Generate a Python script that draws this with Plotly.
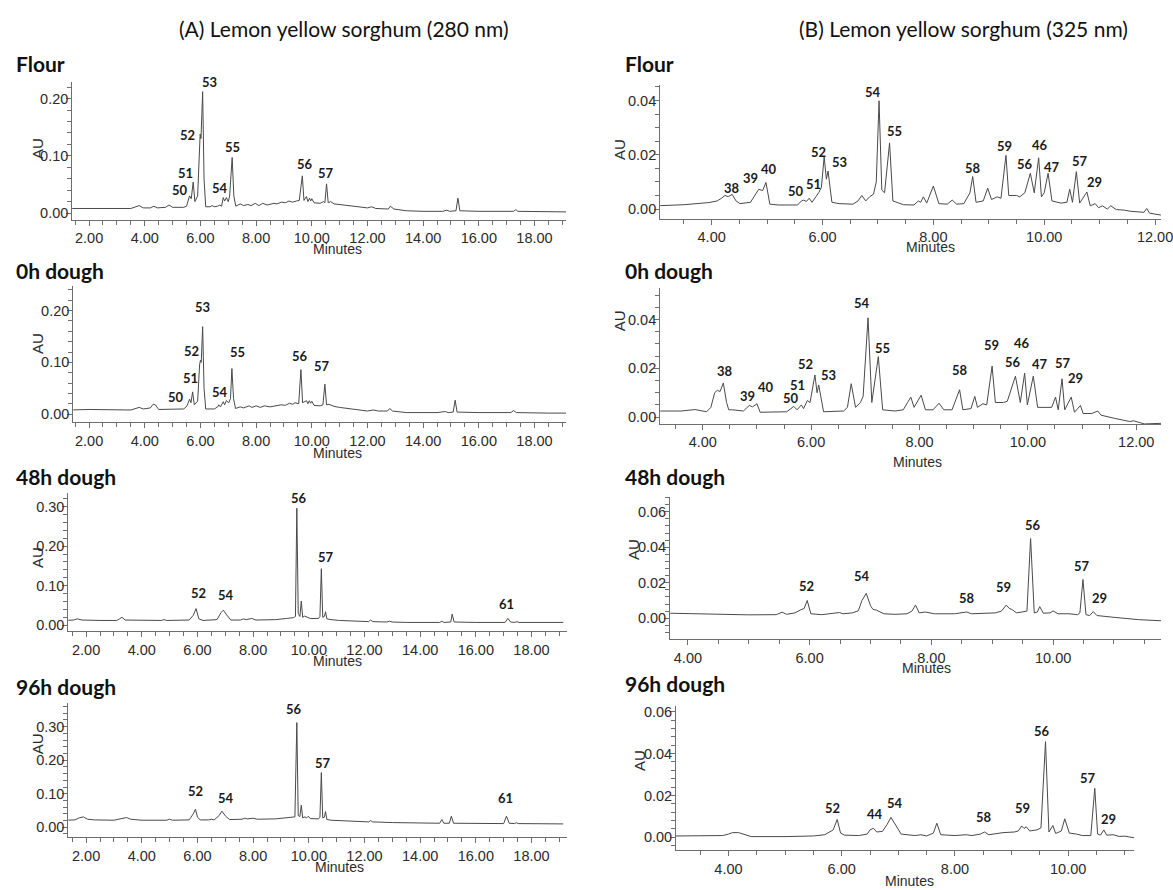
import plotly.graph_objects as go

# ---------------- DATA ----------------
# (A) 280 nm chromatograms: retention time (min) and absorbance (AU)
A1_t = [1.30,1.70,2.00,2.20,3.50,3.80,3.95,4.20,4.33,4.45,4.75,4.87,5.00,5.40,5.50,5.61,5.67,5.74,5.80,5.90,5.96,5.99,6.02,6.08,6.13,6.19,6.35,6.42,6.50,6.62,6.70,6.76,6.82,6.87,6.93,7.00,7.05,7.14,7.20,7.27,7.43,7.55,7.70,7.82,7.97,8.10,8.24,8.40,8.64,8.75,8.91,9.05,9.18,9.30,9.45,9.55,9.66,9.72,9.81,9.86,9.92,9.96,10.00,10.08,10.30,10.42,10.47,10.53,10.59,10.68,10.80,11.00,11.30,11.60,12.00,12.15,12.30,12.75,12.82,12.95,13.40,14.00,14.70,14.85,14.95,15.18,15.25,15.32,16.00,17.25,17.33,17.40,18.50,19.14]
A1_au = [0.008,0.008,0.009,0.008,0.008,0.013,0.009,0.009,0.012,0.009,0.010,0.014,0.010,0.010,0.012,0.030,0.025,0.054,0.020,0.030,0.120,0.138,0.130,0.212,0.060,0.011,0.011,0.013,0.011,0.012,0.014,0.012,0.027,0.021,0.027,0.020,0.030,0.097,0.030,0.012,0.016,0.013,0.015,0.013,0.017,0.013,0.017,0.014,0.017,0.016,0.019,0.018,0.021,0.019,0.021,0.022,0.065,0.022,0.029,0.020,0.026,0.021,0.025,0.018,0.017,0.020,0.018,0.051,0.018,0.020,0.016,0.015,0.013,0.011,0.009,0.011,0.008,0.007,0.012,0.007,0.004,0.003,0.003,0.005,0.003,0.004,0.026,0.004,0.003,0.003,0.006,0.003,0.002,0.002]

A2_t = [1.30,2.00,3.50,3.65,3.80,3.95,4.20,4.30,4.38,4.50,5.00,5.40,5.52,5.61,5.66,5.72,5.78,5.90,5.97,6.00,6.03,6.08,6.13,6.19,6.50,6.62,6.66,6.72,6.82,6.87,6.93,7.02,7.08,7.13,7.19,7.26,7.43,7.55,7.75,7.85,8.00,8.15,8.30,8.50,8.90,9.05,9.20,9.32,9.40,9.53,9.61,9.67,9.81,9.86,9.91,9.96,10.00,10.08,10.30,10.40,10.47,10.53,10.62,10.80,11.00,11.50,12.00,12.20,12.40,12.72,12.80,12.90,13.40,14.50,14.80,14.90,15.08,15.15,15.22,16.00,17.15,17.25,17.35,18.50,19.14]
A2_au = [0.008,0.009,0.008,0.010,0.013,0.010,0.012,0.019,0.018,0.009,0.009,0.010,0.016,0.029,0.022,0.043,0.018,0.025,0.095,0.104,0.100,0.169,0.050,0.010,0.010,0.014,0.018,0.014,0.024,0.018,0.026,0.022,0.030,0.088,0.030,0.011,0.014,0.012,0.016,0.013,0.016,0.013,0.016,0.014,0.018,0.017,0.021,0.019,0.022,0.020,0.086,0.022,0.026,0.020,0.026,0.021,0.025,0.017,0.016,0.018,0.058,0.018,0.019,0.015,0.013,0.010,0.006,0.008,0.006,0.006,0.011,0.006,0.003,0.003,0.005,0.003,0.004,0.027,0.004,0.003,0.003,0.007,0.003,0.002,0.002]

A3_t = [1.25,1.55,1.68,1.85,2.50,3.10,3.20,3.29,3.40,4.00,4.70,4.80,4.90,5.70,5.85,5.95,6.05,6.20,6.70,6.85,6.93,7.05,7.20,7.55,7.65,7.75,7.95,8.10,8.80,9.20,9.45,9.52,9.57,9.62,9.68,9.73,9.78,9.85,9.95,10.05,10.35,10.40,10.45,10.50,10.56,10.60,10.65,10.80,11.10,11.80,12.15,12.22,12.30,12.80,12.90,13.00,13.50,14.70,14.78,14.85,15.10,15.15,15.22,16.00,17.05,17.15,17.25,17.40,17.47,17.55,19.14]
A3_au = [0.012,0.013,0.016,0.013,0.012,0.012,0.016,0.020,0.013,0.012,0.012,0.014,0.012,0.013,0.025,0.042,0.016,0.012,0.014,0.032,0.038,0.026,0.013,0.013,0.016,0.014,0.017,0.013,0.014,0.017,0.019,0.022,0.296,0.030,0.022,0.061,0.020,0.023,0.019,0.017,0.017,0.022,0.143,0.020,0.022,0.034,0.016,0.014,0.012,0.009,0.009,0.013,0.009,0.008,0.010,0.008,0.007,0.007,0.010,0.007,0.008,0.028,0.008,0.007,0.007,0.017,0.008,0.007,0.009,0.007,0.007]

A4_t = [1.25,1.60,1.75,1.90,2.05,2.30,3.00,3.25,3.45,3.60,4.00,4.90,5.00,5.10,5.70,5.85,5.93,6.00,6.10,6.40,6.50,6.60,6.78,6.88,7.00,7.15,7.60,7.70,7.80,8.00,8.15,8.80,9.30,9.50,9.57,9.62,9.68,9.73,9.78,9.86,9.92,9.98,10.05,10.35,10.40,10.45,10.50,10.56,10.60,10.65,10.80,11.00,11.50,12.15,12.22,12.30,13.00,14.00,14.70,14.78,14.85,15.05,15.12,15.20,16.00,17.00,17.10,17.20,17.40,17.45,17.52,19.14]
A4_au = [0.021,0.022,0.028,0.031,0.024,0.022,0.021,0.025,0.029,0.024,0.021,0.021,0.024,0.021,0.022,0.040,0.054,0.030,0.022,0.022,0.024,0.022,0.035,0.048,0.034,0.023,0.024,0.027,0.025,0.027,0.024,0.025,0.028,0.031,0.312,0.035,0.032,0.066,0.028,0.031,0.028,0.033,0.026,0.025,0.030,0.163,0.028,0.030,0.047,0.023,0.021,0.020,0.018,0.016,0.020,0.016,0.014,0.012,0.012,0.023,0.012,0.012,0.033,0.012,0.011,0.011,0.033,0.012,0.011,0.014,0.011,0.010]

# (B) 325 nm chromatograms
B1_t = [3.00,3.50,3.95,4.10,4.18,4.24,4.30,4.37,4.44,4.51,4.70,4.80,4.85,4.92,4.98,5.05,5.20,5.55,5.62,5.66,5.71,5.76,5.81,5.88,5.93,5.98,6.03,6.07,6.10,6.17,6.30,6.55,6.64,6.71,6.78,6.85,6.92,6.97,7.02,7.07,7.12,7.21,7.27,7.46,7.65,7.73,7.77,7.82,7.88,8.00,8.10,8.25,8.34,8.42,8.55,8.66,8.71,8.77,8.90,8.98,9.05,9.15,9.22,9.31,9.36,9.50,9.56,9.65,9.75,9.82,9.90,9.95,10.00,10.07,10.14,10.30,10.41,10.46,10.51,10.58,10.64,10.77,10.83,10.92,10.98,11.05,11.14,11.20,11.30,11.45,11.55,11.80,11.85,11.90,12.10,12.30]
B1_au = [0.0012,0.0016,0.0024,0.0030,0.0040,0.0050,0.0046,0.0054,0.0030,0.0020,0.0025,0.0060,0.0073,0.0068,0.0098,0.0018,0.0015,0.0015,0.0030,0.0033,0.0028,0.0040,0.0025,0.0045,0.0060,0.0080,0.0193,0.0110,0.0140,0.0025,0.0020,0.0018,0.0030,0.0050,0.0030,0.0045,0.0055,0.0100,0.0399,0.0070,0.0060,0.0244,0.0030,0.0016,0.0015,0.0030,0.0025,0.0045,0.0022,0.0085,0.0020,0.0018,0.0033,0.0018,0.0020,0.0060,0.0120,0.0025,0.0030,0.0077,0.0035,0.0045,0.0040,0.0198,0.0050,0.0050,0.0045,0.0060,0.0132,0.0060,0.0189,0.0045,0.0060,0.0132,0.0030,0.0022,0.0025,0.0073,0.0025,0.0138,0.0022,0.0063,0.0012,0.0020,0.0005,0.0012,0.0000,0.0012,-0.0002,-0.0004,-0.0008,-0.0012,0.0002,-0.0015,-0.0022,-0.0025]

B2_t = [3.20,3.60,3.86,4.07,4.15,4.22,4.27,4.32,4.38,4.44,4.48,4.55,4.75,4.86,4.92,5.00,5.06,5.55,5.68,5.74,5.82,5.86,5.93,5.98,6.07,6.11,6.14,6.23,6.60,6.67,6.74,6.82,6.91,6.96,7.05,7.12,7.24,7.32,7.55,7.70,7.78,7.84,7.90,8.03,8.11,8.25,8.36,8.45,8.60,8.74,8.80,8.95,9.02,9.07,9.17,9.24,9.34,9.40,9.55,9.62,9.77,9.86,9.94,9.99,10.10,10.18,10.44,10.51,10.56,10.63,10.68,10.80,10.86,10.97,11.02,11.18,11.29,11.35,11.60,11.88,11.95,12.15,12.50]
B2_au = [0.0025,0.0025,0.0031,0.0022,0.0040,0.0100,0.0110,0.0105,0.0140,0.0060,0.0030,0.0030,0.0025,0.0048,0.0042,0.0055,0.0020,0.0022,0.0044,0.0030,0.0050,0.0035,0.0068,0.0060,0.0173,0.0100,0.0132,0.0022,0.0025,0.0040,0.0137,0.0040,0.0060,0.0085,0.0407,0.0060,0.0248,0.0030,0.0025,0.0030,0.0060,0.0082,0.0040,0.0090,0.0030,0.0030,0.0057,0.0030,0.0030,0.0112,0.0030,0.0035,0.0085,0.0040,0.0055,0.0050,0.0209,0.0060,0.0060,0.0065,0.0168,0.0060,0.0180,0.0050,0.0168,0.0040,0.0040,0.0082,0.0030,0.0157,0.0030,0.0082,0.0020,0.0048,0.0015,0.0015,0.0025,0.0008,-0.0005,-0.0018,-0.0015,-0.0028,-0.0025]

B3_t = [3.71,4.00,4.50,5.00,5.45,5.55,5.62,5.76,5.85,5.91,5.96,6.02,6.20,6.49,6.55,6.70,6.80,6.86,6.93,7.00,7.04,7.10,7.22,7.40,7.60,7.68,7.74,7.80,7.90,8.05,8.38,8.50,8.58,8.66,9.05,9.15,9.23,9.28,9.32,9.40,9.50,9.57,9.63,9.69,9.74,9.78,9.84,9.95,10.00,10.08,10.26,10.40,10.44,10.49,10.54,10.60,10.66,10.72,11.00,11.40,11.80]
B3_au = [0.0028,0.0026,0.0020,0.0019,0.0020,0.0034,0.0022,0.0030,0.0047,0.0055,0.0100,0.0025,0.0020,0.0032,0.0025,0.0030,0.0042,0.0100,0.0140,0.0070,0.0050,0.0045,0.0025,0.0022,0.0025,0.0040,0.0074,0.0030,0.0035,0.0025,0.0025,0.0030,0.0035,0.0025,0.0030,0.0040,0.0074,0.0055,0.0050,0.0030,0.0035,0.0040,0.0449,0.0030,0.0035,0.0065,0.0028,0.0030,0.0041,0.0025,0.0025,0.0020,0.0030,0.0218,0.0020,0.0015,0.0037,0.0015,0.0005,-0.0008,-0.0015]

B4_t = [3.07,3.90,4.00,4.07,4.18,4.28,4.40,5.00,5.50,5.70,5.80,5.85,5.92,5.98,6.05,6.30,6.45,6.50,6.56,6.62,6.72,6.80,6.87,6.95,7.05,7.30,7.40,7.50,7.62,7.68,7.75,8.00,8.20,8.30,8.45,8.52,8.60,8.85,9.05,9.12,9.18,9.22,9.26,9.32,9.45,9.52,9.60,9.66,9.73,9.78,9.88,9.94,10.02,10.15,10.25,10.40,10.47,10.52,10.57,10.63,10.68,10.80,10.90,11.00,11.17]
B4_au = [0.0006,0.0008,0.0015,0.0022,0.0022,0.0012,0.0003,0.0003,0.0006,0.0012,0.0025,0.0035,0.0085,0.0020,0.0010,0.0008,0.0015,0.0035,0.0043,0.0025,0.0028,0.0060,0.0095,0.0060,0.0015,0.0008,0.0012,0.0006,0.0020,0.0067,0.0012,0.0008,0.0012,0.0008,0.0015,0.0025,0.0012,0.0022,0.0025,0.0030,0.0054,0.0042,0.0050,0.0030,0.0035,0.0045,0.0457,0.0025,0.0056,0.0018,0.0030,0.0088,0.0020,0.0015,0.0008,0.0008,0.0234,0.0015,0.0010,0.0035,0.0010,0.0012,0.0004,0.0005,-0.0003]

# Peak numbers and where they are written (time, AU)
A1_lbl = ["53","52","51","50","54","55","56","57"]
A1_lbl_t = [6.33,5.52,5.45,5.27,6.71,7.16,9.74,10.50]
A1_lbl_au = [0.229,0.137,0.070,0.040,0.043,0.115,0.086,0.070]

A2_lbl = ["53","52","51","50","54","55","56","57"]
A2_lbl_t = [6.08,5.68,5.64,5.14,6.71,7.33,9.58,10.35]
A2_lbl_au = [0.206,0.121,0.069,0.033,0.043,0.120,0.112,0.093]

A3_lbl = ["52","54","56","57","61"]
A3_lbl_t = [6.02,7.02,9.64,10.63,17.11]
A3_lbl_au = [0.082,0.076,0.321,0.173,0.054]

A4_lbl = ["52","54","56","57","61"]
A4_lbl_t = [5.94,7.01,9.48,10.50,17.06]
A4_lbl_au = [0.107,0.087,0.352,0.193,0.087]

B1_lbl = ["38","39","40","50","51","52","53","54","55","58","59","56","46","47","57","29"]
B1_lbl_t = [4.36,4.70,5.03,5.52,5.84,5.92,6.30,6.91,7.30,8.71,9.29,9.66,9.92,10.14,10.64,10.90]
B1_lbl_au = [0.0079,0.0116,0.0146,0.0067,0.0091,0.0210,0.0174,0.0430,0.0287,0.0152,0.0232,0.0167,0.0235,0.0156,0.0177,0.0098]

B2_lbl = ["38","39","40","50","51","52","53","54","55","58","59","46","56","47","57","29"]
B2_lbl_t = [4.41,4.83,5.16,5.63,5.74,5.90,6.33,6.93,7.32,8.75,9.32,9.89,9.72,10.22,10.64,10.88]
B2_lbl_au = [0.0191,0.0086,0.0123,0.0078,0.0132,0.0218,0.0171,0.0467,0.0284,0.0195,0.0296,0.0303,0.0225,0.0216,0.0221,0.0160]

B3_lbl = ["52","54","58","59","56","57","29"]
B3_lbl_t = [5.95,6.86,8.58,9.19,9.67,10.48,10.76]
B3_lbl_au = [0.0181,0.0237,0.0115,0.0175,0.0525,0.0296,0.0115]

B4_lbl = ["52","44","54","58","59","56","57","29"]
B4_lbl_t = [5.83,6.58,6.95,8.52,9.19,9.53,10.35,10.72]
B4_lbl_au = [0.0138,0.0110,0.0162,0.0095,0.0142,0.0508,0.0285,0.0088]

panel_titles = ["Flour", "0h dough", "48h dough", "96h dough"]
column_titles = ["(A) Lemon yellow sorghum (280 nm)", "(B) Lemon yellow sorghum (325 nm)"]

# ---------------- LAYOUT (pixel geometry of each panel) ----------------
W, H = 1173, 890
GEOM = {
    "A1": dict(l=73, r=572, tref=2.0, pref=90, s=28.125, top=80, bot=219, zero=212, k=575, dy=0.1, my=0.02, au=(38, 147), mins=(341, 248), title=(14, 62)),
    "A2": dict(l=74, r=572, tref=2.0, pref=90, s=28.125, top=285, bot=422, zero=414, k=520, dy=0.1, my=0.02, au=(38, 343), mins=(341, 453), title=(14, 270)),
    "A3": dict(l=69, r=573, tref=2.0, pref=87, s=28.125, top=493, bot=632, zero=626, k=397, dy=0.1, my=0.02, au=(38, 558), mins=(341, 662), title=(14, 477)),
    "A4": dict(l=69, r=573, tref=2.0, pref=87, s=28.125, top=704, bot=839, zero=829, k=337, dy=0.1, my=0.02, au=(38, 745), mins=(343, 869), title=(14, 688)),
    "B1": dict(l=667, r=1173, tref=4.0, pref=719, s=56.0, top=83, bot=218, zero=208, k=2725, dy=0.02, my=0.005, au=(626, 148), mins=(940, 246), title=(629, 62)),
    "B2": dict(l=667, r=1173, tref=4.0, pref=710, s=54.75, top=287, bot=424, zero=417, k=2450, dy=0.02, my=0.005, au=(626, 320), mins=(927, 462), title=(629, 270)),
    "B3": dict(l=677, r=1173, tref=4.0, pref=695, s=61.5, top=497, bot=640, zero=619, k=1783, dy=0.02, my=0.004, au=(640, 550), mins=(936, 669), title=(629, 477)),
    "B4": dict(l=683, r=1146, tref=4.0, pref=736, s=57.2, top=707, bot=852, zero=839, k=2100, dy=0.02, my=0.004, au=(646, 762), mins=(919, 883), title=(629, 685)),
}
DATA = {
    "A1": (A1_t, A1_au, A1_lbl, A1_lbl_t, A1_lbl_au),
    "A2": (A2_t, A2_au, A2_lbl, A2_lbl_t, A2_lbl_au),
    "A3": (A3_t, A3_au, A3_lbl, A3_lbl_t, A3_lbl_au),
    "A4": (A4_t, A4_au, A4_lbl, A4_lbl_t, A4_lbl_au),
    "B1": (B1_t, B1_au, B1_lbl, B1_lbl_t, B1_lbl_au),
    "B2": (B2_t, B2_au, B2_lbl, B2_lbl_t, B2_lbl_au),
    "B3": (B3_t, B3_au, B3_lbl, B3_lbl_t, B3_lbl_au),
    "B4": (B4_t, B4_au, B4_lbl, B4_lbl_t, B4_lbl_au),
}

ARIAL = "Liberation Sans, Arial, sans-serif"
CALIBRI = "Lato, Carlito, Calibri, sans-serif"
LINE = "#4a4a4a"
AXC = "#6e6e6e"
TXT = "#2b2b2b"

fig = go.Figure()
annotations = []

for i, key in enumerate(["A1", "A2", "A3", "A4", "B1", "B2", "B3", "B4"]):
    g = GEOM[key]
    t, au, lbl, lt, la = DATA[key]
    n = i + 1
    xa = "x" if n == 1 else f"x{n}"
    ya = "y" if n == 1 else f"y{n}"
    fig.add_trace(go.Scatter(x=t, y=au, mode="lines", xaxis=xa, yaxis=ya,
                             line=dict(color=LINE, width=1), showlegend=False, hoverinfo="skip"))
    x0 = g["tref"] + (g["l"] - g["pref"]) / g["s"]
    x1 = g["tref"] + (g["r"] - g["pref"]) / g["s"]
    y0 = -(g["bot"] - g["zero"]) / g["k"]
    y1 = (g["zero"] - g["top"]) / g["k"]
    xkey = "xaxis" if n == 1 else f"xaxis{n}"
    ykey = "yaxis" if n == 1 else f"yaxis{n}"
    fig.update_layout(**{
        xkey: dict(domain=[g["l"] / W, min(g["r"] / W, 1.0)], range=[x0, x1], anchor=ya,
                   showline=True, linecolor=AXC, linewidth=1, showgrid=False, zeroline=False,
                   ticks="outside", ticklen=5, tickcolor=AXC, dtick=2, tick0=0, tickformat=".2f",
                   ticklabeloverflow="allow",
                   tickfont=dict(family=ARIAL, size=14.5, color=TXT),
                   minor=dict(dtick=0.5, tick0=0, ticks="outside", ticklen=4, tickcolor=AXC, showgrid=False)),
        ykey: dict(domain=[1 - g["bot"] / H, 1 - g["top"] / H], range=[y0, y1], anchor=xa,
                   showline=True, linecolor=AXC, linewidth=1, showgrid=False, zeroline=False,
                   ticks="outside", ticklen=5, tickcolor=AXC, dtick=g["dy"], tick0=0, tickformat=".2f",
                   ticklabelstandoff=-5,
                   tickfont=dict(family=ARIAL, size=14.5, color=TXT),
                   minor=dict(dtick=g["my"], tick0=0, ticks="outside", ticklen=4, tickcolor=AXC, showgrid=False)),
    })
    for s_, tx, ay in zip(lbl, lt, la):
        annotations.append(dict(x=tx, y=ay, xref=xa, yref=ya, text=s_, showarrow=False,
                                xanchor="center", yanchor="middle",
                                font=dict(family=CALIBRI, size=13, color="#1a1a1a", weight="bold")))
    annotations.append(dict(x=g["au"][0] / W, y=1 - g["au"][1] / H, xref="paper", yref="paper", text="AU",
                            textangle=-90, showarrow=False, xanchor="center", yanchor="middle",
                            font=dict(family=ARIAL, size=15, color=TXT)))
    annotations.append(dict(x=g["mins"][0] / W, y=1 - g["mins"][1] / H, xref="paper", yref="paper", text="Minutes",
                            showarrow=False, xanchor="center", yanchor="middle",
                            font=dict(family=ARIAL, size=14, color=TXT)))
    annotations.append(dict(x=g["title"][0] / W, y=1 - g["title"][1] / H, xref="paper", yref="paper",
                            text=panel_titles[i % 4], showarrow=False, xanchor="left", yanchor="middle",
                            font=dict(family=CALIBRI, size=21, color="#111111", weight="bold")))

for txt, cx, cy in zip(column_titles, [348, 973], [27, 27]):
    annotations.append(dict(x=cx / W, y=1 - cy / H, xref="paper", yref="paper", text=txt, showarrow=False,
                            xanchor="center", yanchor="middle",
                            font=dict(family=CALIBRI, size=21, color="#111111")))

fig.update_layout(width=W, height=H, margin=dict(l=0, r=0, t=0, b=0),
                  paper_bgcolor="white", plot_bgcolor="white", annotations=annotations)

fig.write_html("out.html")
